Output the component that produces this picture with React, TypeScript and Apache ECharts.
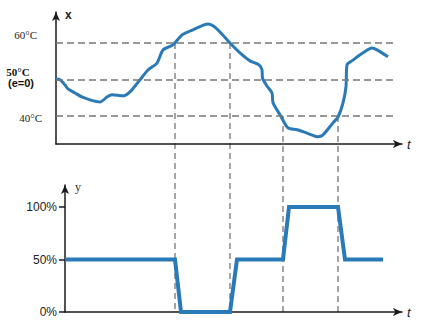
import React, { useEffect, useRef } from "react";
import * as echarts from "echarts";

// time units (arbitrary), temperature in °C
const tempTimes = [0, 4, 9, 12, 19, 26, 34, 44, 51, 56, 67, 74, 84, 92, 101, 107, 117, 126, 137, 152, 157, 164, 174, 184, 194, 203, 206, 206.5, 211, 216, 217, 224, 232, 241, 251, 262, 267, 277, 282, 287, 290, 291, 297, 307, 316, 321, 332];
const tempValues = [50.1, 49.9, 48.5, 47.4, 46.3, 45.2, 44.4, 43.8, 45.2, 45.8, 45.5, 46.6, 49.9, 52.6, 54.5, 58.1, 59.5, 62.2, 63.6, 65.2, 64.7, 63.0, 60.0, 57.3, 55.1, 54.0, 52.6, 50.4, 48.2, 46.3, 43.6, 40.3, 36.7, 36.2, 35.3, 34.3, 34.8, 38.1, 39.7, 43.6, 48.0, 54.0, 55.3, 57.3, 58.6, 58.1, 56.2];

// controller output (%)
const ctrlTimes = [9, 119, 125, 174, 181, 227, 233, 282, 289, 327];
const ctrlValues = [50, 50, 0, 0, 50, 50, 100, 100, 50, 50];

// switching instants and the temperature thresholds crossed there
const switchTimes = [119, 174, 227, 282];
const switchTemps = [60, 60, 40, 40];

const refTemps = [60, 50, 40];
const ctrlTicks = [0, 50, 100];

export default function App() {
  const ref = useRef<HTMLDivElement>(null);

  useEffect(() => {
    const chart = echarts.init(ref.current!, null, { renderer: "svg" });
    const blue = "#2a7ab8";
    const axisColor = "#1a1a1a";
    const arrowLine = {
      show: true,
      lineStyle: { color: axisColor, width: 1.5 },
      symbol: ["none", "arrow"],
      symbolSize: [6, 9],
    };

    chart.setOption({
      animation: false,
      grid: [
        { left: 56, top: 12, width: 346, height: 132 },
        { left: 65, top: 185, width: 337, height: 127 },
      ],
      xAxis: [
        {
          type: "value", gridIndex: 0, min: 0, max: 346,
          axisLine: arrowLine, axisTick: { show: false }, axisLabel: { show: false }, splitLine: { show: false },
          name: "t", nameLocation: "end", nameGap: 5,
          nameTextStyle: { fontStyle: "italic", fontSize: 13, color: "#222", fontFamily: "Liberation Sans", verticalAlign: "middle" },
        },
        {
          type: "value", gridIndex: 1, min: 9, max: 346,
          axisLine: arrowLine, axisTick: { show: false }, axisLabel: { show: false }, splitLine: { show: false },
          name: "t", nameLocation: "end", nameGap: 5,
          nameTextStyle: { fontStyle: "italic", fontSize: 13, color: "#222", fontFamily: "Liberation Sans", verticalAlign: "middle" },
        },
      ],
      yAxis: [
        {
          type: "value", gridIndex: 0, min: 32.3, max: 68.5,
          axisLine: arrowLine, axisTick: { show: false }, axisLabel: { show: false }, splitLine: { show: false },
          name: "x", nameLocation: "end", nameGap: -3,
          nameTextStyle: { fontWeight: "bold", fontSize: 12, color: "#222", fontFamily: "Liberation Sans", align: "left", verticalAlign: "middle", padding: [0, 0, 0, 9] },
        },
        {
          type: "value", gridIndex: 1, min: 0, max: 121, interval: 50,
          axisLine: arrowLine,
          axisTick: { show: true, length: 6, customValues: ctrlTicks, lineStyle: { color: axisColor, width: 1.5 } },
          axisLabel: {
            show: true, margin: 8, customValues: ctrlTicks,
            formatter: (v: number) => (ctrlTicks.indexOf(v) >= 0 ? v + "%" : ""),
            fontSize: 12, color: "#222", fontFamily: "Liberation Sans",
          },
          splitLine: { show: false },
          name: "y", nameLocation: "end", nameGap: -2,
          nameTextStyle: { fontSize: 12, color: "#333", fontFamily: "Liberation Serif", align: "left", verticalAlign: "middle", padding: [0, 0, 0, 10] },
        },
      ],
      series: [
        {
          type: "line", xAxisIndex: 0, yAxisIndex: 0,
          data: tempTimes.map((t, i) => [t, tempValues[i]]),
          showSymbol: false, smooth: 0.25,
          lineStyle: { color: blue, width: 3 },
          z: 3,
          markLine: {
            silent: true, symbol: "none", label: { show: false },
            lineStyle: { color: "#777", width: 1.5, type: [7, 4] },
            data: refTemps.map((v) => [{ coord: [0, v] }, { coord: [337, v] }]),
          },
        },
        {
          type: "line", xAxisIndex: 1, yAxisIndex: 1,
          data: ctrlTimes.map((t, i) => [t, ctrlValues[i]]),
          showSymbol: false,
          lineStyle: { color: blue, width: 4, join: "miter" },
          z: 3,
        },
      ],
    });

    const graphics: any[] = [];
    switchTimes.forEach((t, i) => {
      const p1 = chart.convertToPixel({ gridIndex: 0 }, [t, switchTemps[i]]) as number[];
      const p2 = chart.convertToPixel({ gridIndex: 1 }, [t, 0]) as number[];
      graphics.push({
        type: "line", silent: true, z: 0,
        shape: { x1: p1[0], y1: p1[1], x2: p2[0], y2: p2[1] },
        style: { stroke: "#888", lineWidth: 1.5, lineDash: [6, 4] },
      });
    });
    const y60 = (chart.convertToPixel({ gridIndex: 0 }, [0, refTemps[0]]) as number[])[1];
    const y50 = (chart.convertToPixel({ gridIndex: 0 }, [0, refTemps[1]]) as number[])[1];
    const y40 = (chart.convertToPixel({ gridIndex: 0 }, [0, refTemps[2]]) as number[])[1];
    const serif = "Liberation Serif";
    graphics.push(
      { type: "text", x: 37, y: y60 - 8, style: { text: "60°C", font: `11px "${serif}"`, fill: "#222", align: "right", verticalAlign: "middle" } },
      { type: "text", x: 18, y: y50 - 7, style: { text: "50°C", font: `bold 11px "${serif}"`, fill: "#111", align: "center", verticalAlign: "middle" } },
      { type: "text", x: 21, y: y50 + 4, style: { text: "(e=0)", font: `bold 11px "Liberation Sans"`, fill: "#111", align: "center", verticalAlign: "middle" } },
      { type: "text", x: 42, y: y40 + 2, style: { text: "40°C", font: `11px "${serif}"`, fill: "#222", align: "right", verticalAlign: "middle" } },
    );
    chart.setOption({ graphic: graphics });

    return () => chart.dispose();
  }, []);

  return <div ref={ref} style={{ position: "absolute", left: 0, top: 0, width: 438, height: 336 }} />;
}
